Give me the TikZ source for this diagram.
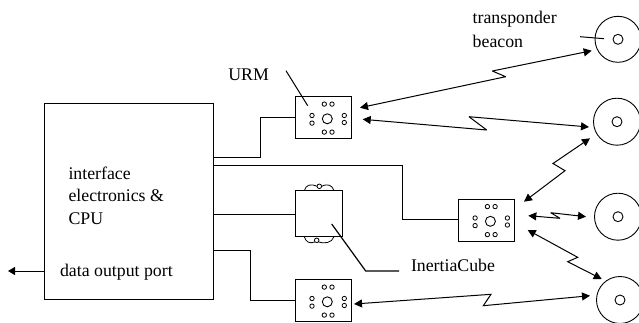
\documentclass[tikz,border=0pt]{standalone}
\usepackage{fontspec}
\setmainfont{Liberation Serif}
\usetikzlibrary{arrows.meta}
\tikzset{
  ln/.style={line width=1bp,black},
  box/.style={draw,line width=1bp,inner sep=0pt,outer sep=0pt,rectangle},
  urmbox/.style={box,minimum width=56bp,minimum height=42bp},
  ring/.style={draw,line width=0.9bp,circle,inner sep=0pt,outer sep=0pt},
  txt/.style={anchor=base west,inner sep=0pt,outer sep=0pt,font=\fontsize{17.8bp}{20bp}\selectfont},
  link/.style={line width=1bp,{Triangle[length=8bp,width=8bp]}-{Triangle[length=8bp,width=8bp]},line join=miter,miter limit=3},
}
\newcommand{\urmunit}[3]{%
  \node[urmbox] (#1) at (#2,#3) {};
  \begin{scope}[shift={(#2+4,#3+1.3)}]
    \node[ring,minimum size=10bp] (#1c) at (0,0) {};
    \foreach \i/\dx/\dy in {a/-3/-14.7,b/4.7/-14.7,d/-3/13.3,e/4.7/13.3,f/-15.3/-3.3,g/-15.3/4.3,h/17/-3.3,j/17/3.7}
      \node[ring,line width=0.8bp,minimum size=4.4bp] (#1\i) at (\dx,\dy) {};
  \end{scope}}
\newcommand{\beacon}[4]{%
  \node[ring,minimum size=#4 bp] (#1) at (#2,#3) {};
  \node[ring,minimum size=10bp] (#1i) at (#2,#3) {};}
\begin{document}
\begin{tikzpicture}[x=1bp,y=-1bp]
\useasboundingbox (0,0) rectangle (639,322);
% CPU
\node[box,minimum width=168.5bp,minimum height=196bp] (cpu) at (129.25,201) {};
\node[txt] (t1) at (68.5,179) {interface};
\node[txt] (t2) at (68.5,201.7) {electronics \&};
\node[txt] (t3) at (68.5,224.3) {CPU};
\node[txt] (t4) at (60,276.7) {data output port};
\coordinate (outL) at (8,271);
\draw[ln,-{Triangle[length=7bp,width=8bp]}] (cpu.west |- outL) -- (outL);
% URMs
\urmunit{u1}{323.3}{117.5}
\urmunit{u2}{486.4}{220}
\urmunit{u3}{323.3}{300.5}
% Cube
\node[box,minimum width=47bp,minimum height=46bp] (cube) at (318.8,213.7) {};
\node[ring,line width=0.8bp,minimum size=4.6bp] (ct) at (319.3,186.3) {};
\node[ring,line width=0.8bp,minimum size=4.6bp] (cb) at (316.7,240.3) {};
\draw[ln,line width=0.8bp] (304.3,190.7) .. controls (306,185) and (310,183.3) .. (ct.west);
\draw[ln,line width=0.8bp] (ct.east) .. controls (328,183.3) and (332,185) .. (334,190.7);
\draw[ln,line width=0.8bp] (304.3,236.7) .. controls (306,242) and (309,244) .. (cb.south west);
\draw[ln,line width=0.8bp] (cb.south east) .. controls (324,244) and (332,243) .. (334,236.7);
% Beacons
\beacon{b1}{618}{39.3}{46}
\beacon{b2}{617}{121.7}{47}
\beacon{b3}{618}{216.7}{47}
\beacon{b4}{620}{300}{47}
% Wires
\coordinate (w1) at (213.5,157);
\coordinate (w2) at (213.5,165);
\coordinate (w3) at (213.5,214);
\coordinate (w4) at (213.5,250.7);
\draw[ln] (w1) -- (260,157) -- (260,117) -- (u1.west |- 0,117);
\draw[ln] (w2) -- (402.3,165) -- (402.3,219) -- (u2.west |- 0,219);
\draw[ln] (w3) -- (cube.west |- w3);
\draw[ln] (w4) -- (250,250.7) -- (250,300.3) -- (u3.west |- 0,300.3);
% Links
\coordinate (a1s) at (360,107.7); \coordinate (a1e) at (591.7,50.7);
\coordinate (a2s) at (362.7,119.3); \coordinate (a2e) at (589,127);
\coordinate (a3s) at (524,201.7); \coordinate (a3e) at (590,138.3);
\coordinate (a4s) at (528.3,215.7); \coordinate (a4e) at (586,216.7);
\coordinate (a5s) at (527.7,230); \coordinate (a5e) at (601.7,279);
\coordinate (a6s) at (354,304); \coordinate (a6e) at (590,295.7);
\draw[link] (a1s) -- (505.7,76.7) -- (492.3,71) -- (a1e);
\draw[link] (a2s) -- (486.7,130) -- (469,116.7) -- (a2e);
\draw[link] (a3s) -- (565,170.7) -- (553,163.5) -- (a3e);
\draw[link] (a4s) -- (560,218.3) -- (550.7,212.7) -- (a4e);
\draw[link] (a5s) -- (577.7,257.3) -- (567.7,261.7) -- (a5e);
\draw[link] (a6s) -- (491,294.3) -- (483.3,305.7) -- (a6e);
% Labels
\node[txt] (l1) at (472.7,23.5) {transponder};
\node[txt] (l2) at (472.7,47.7) {beacon};
\node[txt] (l3) at (228.3,80) {URM};
\node[txt] (l4) at (411,271.7) {InertiaCube};
\coordinate (lu) at (286,70.7); \coordinate (lue) at (307.7,105.7);
\coordinate (lb) at (580,36.7); \coordinate (lbe) at (604,38.7);
\coordinate (lc) at (331.7,224); \coordinate (lcm) at (365.7,271); \coordinate (lce) at (399,271);
\draw[ln] (lu) -- (lue);
\draw[ln] (lb) -- (lbe);
\draw[ln,line width=1.2bp] (lc) -- (lcm) -- (lce);
\end{tikzpicture}
\end{document}
